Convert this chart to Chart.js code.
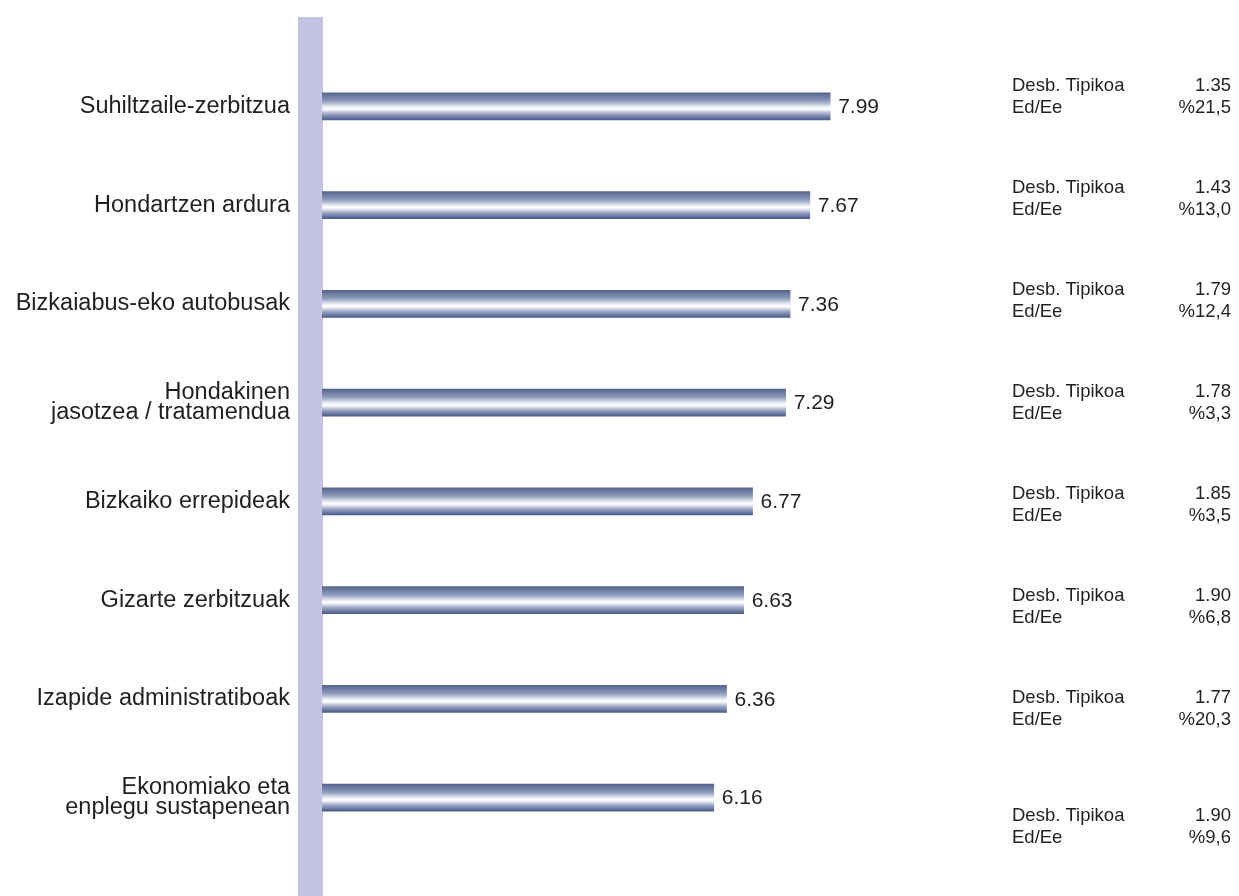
<!DOCTYPE html>
<html>
<head>
<meta charset="utf-8">
<script src="https://cdn.jsdelivr.net/npm/chart.js@4/dist/chart.umd.min.js"></script>
<style>
  body { margin: 0; background: #fff; }
</style>
</head>
<body>
<canvas id="chart" width="1239" height="896"></canvas>
<script>
const categories = [
  "Suhiltzaile-zerbitzua",
  "Hondartzen ardura",
  "Bizkaiabus-eko autobusak",
  ["Hondakinen", "jasotzea / tratamendua"],
  "Bizkaiko errepideak",
  "Gizarte zerbitzuak",
  "Izapide administratiboak",
  ["Ekonomiako eta", "enplegu sustapenean"],
];
const scores = [7.99, 7.67, 7.36, 7.29, 6.77, 6.63, 6.36, 6.16];
const stdDev = ["1.35", "1.43", "1.79", "1.78", "1.85", "1.90", "1.77", "1.90"];
const errorPct = ["%21,5", "%13,0", "%12,4", "%3,3", "%3,5", "%6,8", "%20,3", "%9,6"];

const FONT = "'Liberation Sans', Arial, sans-serif";
const TEXT = "#231f20";
const BAR_H = 27;

// tube-like gradient, built once the bars have their final position
function tubeGradient(ctx, top, bottom) {
  const g = ctx.createLinearGradient(0, top, 0, bottom);
  g.addColorStop(0, "#55658f");
  g.addColorStop(0.3, "#8e9abb");
  g.addColorStop(0.52, "#eef1f8");
  g.addColorStop(0.6, "#ffffff");
  g.addColorStop(0.78, "#9ca7c5");
  g.addColorStop(1, "#4a5a8a");
  return g;
}

const decor = {
  id: "decor",
  beforeDatasetsDraw(chart) {
    const { ctx, chartArea } = chart;
    ctx.save();
    ctx.fillStyle = "#c5c3e2";
    ctx.fillRect(chartArea.left - 24, 17, 25, chart.height - 17);
    ctx.restore();
    chart.getDatasetMeta(0).data.forEach((bar) => {
      const h = bar.height || BAR_H;
      const opts = Object.assign({}, bar.options);
      opts.backgroundColor = tubeGradient(ctx, bar.y - h / 2, bar.y + h / 2);
      bar.options = opts;
    });
  },
  afterDatasetsDraw(chart) {
    const { ctx } = chart;
    const meta = chart.getDatasetMeta(0);
    ctx.save();
    ctx.fillStyle = TEXT;
    ctx.textBaseline = "middle";
    ctx.font = "21px " + FONT;
    ctx.textAlign = "left";
    meta.data.forEach((bar, i) => {
      ctx.fillText(scores[i].toFixed(2), bar.x + 8, bar.y + 1);
    });
    // stats table on the right
    ctx.font = "18.5px " + FONT;
    stdDev.forEach((sd, i) => {
      const y = i < 7 ? 86 + i * 102 : 816;
      ctx.textAlign = "left";
      ctx.fillText("Desb. Tipikoa", 1012, y);
      ctx.fillText("Ed/Ee", 1012, y + 22);
      ctx.textAlign = "right";
      ctx.fillText(sd, 1231, y);
      ctx.fillText(errorPct[i], 1231, y + 22);
    });
    ctx.restore();
  },
};

new Chart(document.getElementById("chart"), {
  type: "bar",
  data: {
    labels: categories,
    datasets: [
      {
        data: scores,
        backgroundColor: () => "#55659a",
        barThickness: BAR_H,
        borderWidth: 0,
      },
    ],
  },
  options: {
    indexAxis: "y",
    responsive: false,
    animation: false,
    layout: { padding: { left: 0, right: 281, top: 57, bottom: 49 } },
    scales: {
      x: {
        min: 0,
        max: 10,
        display: false,
      },
      y: {
        grid: { display: false },
        border: { display: false },
        ticks: {
          color: TEXT,
          padding: 24,
          font: { family: FONT, size: 23.5, lineHeight: 0.88 },
        },
        afterFit(scale) {
          scale.width = 322;
        },
      },
    },
    plugins: {
      legend: { display: false },
      tooltip: { enabled: false },
    },
  },
  plugins: [decor],
});
</script>
</body>
</html>
